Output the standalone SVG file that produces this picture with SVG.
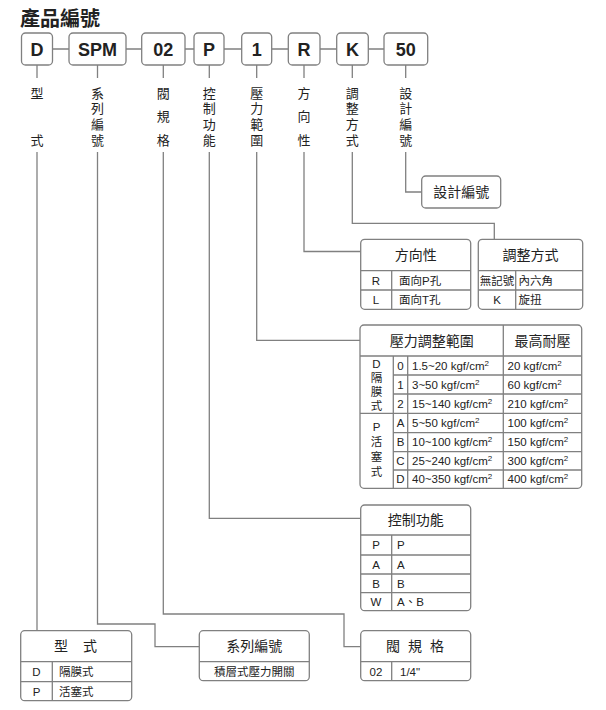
<svg xmlns="http://www.w3.org/2000/svg" width="606" height="710" viewBox="0 0 606 710">
<style>
text{font-family:"Liberation Sans","Noto Sans CJK TC",sans-serif;fill:#222}
.code{font-size:18px;font-weight:bold;text-anchor:middle}
.box{fill:#fff;stroke:#808080;stroke-width:1.3}
.ln{fill:none;stroke:#808080;stroke-width:1.3}
.vl{font-size:13px;text-anchor:middle}
.hd{font-size:14px;text-anchor:middle}
.td{font-size:11.5px}
.tc{font-size:11.5px;text-anchor:middle}
.sup{font-size:8px}
</style>
<rect width="606" height="710" fill="#fff"/>
<text x="20" y="26" style="font-size:20px;font-weight:bold">產品編號</text>

<g id="connectors">
<path class="ln" d="M52.5 49H69M126 49H141.7M185 49H194M224 49H241.7M271.7 49H288.3M320 49H336.7M368.3 49H384"/>
<path class="ln" d="M37 65V78M97.5 65V78M163.3 65V78M209.3 65V78M256.7 65V78M304 65V78M352.3 65V78M405.7 65V78"/>
<path class="ln" d="M37 152V630.7"/>
<path class="ln" d="M97.5 152V624H155V646.7H199.3"/>
<path class="ln" d="M163.3 152V614H344V646.7H360.7"/>
<path class="ln" d="M209.3 152V518.3H360.7"/>
<path class="ln" d="M256.7 152V340.3H360"/>
<path class="ln" d="M304 152V251.5H360.7"/>
<path class="ln" d="M352.3 152V223.3H494.3V239.3"/>
<path class="ln" d="M405.7 152V192H421.7"/>
</g>

<g id="node-D">
<rect class="box" x="21.5" y="33" width="31" height="32" rx="4"/>
<text class="code" x="37" y="55.5">D</text>
<text class="vl" x="37" y="97.5">型</text>
<text class="vl" x="37" y="144.5">式</text>
</g>
<g id="node-SPM">
<rect class="box" x="69" y="33" width="57" height="32" rx="4"/>
<text class="code" x="97.5" y="55.5">SPM</text>
<text class="vl" x="97.5" y="97.5">系</text>
<text class="vl" x="97.5" y="113.2">列</text>
<text class="vl" x="97.5" y="128.8">編</text>
<text class="vl" x="97.5" y="144.5">號</text>
</g>
<g id="node-02">
<rect class="box" x="141.7" y="33" width="43.3" height="32" rx="4"/>
<text class="code" x="163.3" y="55.5">02</text>
<text class="vl" x="163.3" y="97.5">閥</text>
<text class="vl" x="163.3" y="121">規</text>
<text class="vl" x="163.3" y="144.5">格</text>
</g>
<g id="node-P">
<rect class="box" x="194" y="33" width="30" height="32" rx="4"/>
<text class="code" x="209" y="55.5">P</text>
<text class="vl" x="209.3" y="97.5">控</text>
<text class="vl" x="209.3" y="113.2">制</text>
<text class="vl" x="209.3" y="128.8">功</text>
<text class="vl" x="209.3" y="144.5">能</text>
</g>
<g id="node-1">
<rect class="box" x="241.7" y="33" width="30" height="32" rx="4"/>
<text class="code" x="256.7" y="55.5">1</text>
<text class="vl" x="256.7" y="97.5">壓</text>
<text class="vl" x="256.7" y="113.2">力</text>
<text class="vl" x="256.7" y="128.8">範</text>
<text class="vl" x="256.7" y="144.5">圍</text>
</g>
<g id="node-R">
<rect class="box" x="288.3" y="33" width="31.7" height="32" rx="4"/>
<text class="code" x="304" y="55.5">R</text>
<text class="vl" x="304" y="97.5">方</text>
<text class="vl" x="304" y="121">向</text>
<text class="vl" x="304" y="144.5">性</text>
</g>
<g id="node-K">
<rect class="box" x="336.7" y="33" width="31.6" height="32" rx="4"/>
<text class="code" x="352.5" y="55.5">K</text>
<text class="vl" x="352.3" y="97.5">調</text>
<text class="vl" x="352.3" y="113.2">整</text>
<text class="vl" x="352.3" y="128.8">方</text>
<text class="vl" x="352.3" y="144.5">式</text>
</g>
<g id="node-50">
<rect class="box" x="384" y="33" width="43.7" height="32" rx="4"/>
<text class="code" x="405.8" y="55.5">50</text>
<text class="vl" x="405.7" y="97.5">設</text>
<text class="vl" x="405.7" y="113.2">計</text>
<text class="vl" x="405.7" y="128.8">編</text>
<text class="vl" x="405.7" y="144.5">號</text>
</g>

<g id="table-design">
<rect class="box" x="421.7" y="176" width="79" height="32" rx="4"/>
<text class="hd" x="461.2" y="197">設計編號</text>
</g>

<g id="table-direction">
<rect class="box" x="360.7" y="239.3" width="110" height="70" rx="4"/>
<path class="ln" d="M360.7 270.7H470.7M360.7 290H470.7M391.7 270.7V309.3"/>
<text class="hd" x="415.7" y="260">方向性</text>
<text class="tc" x="376" y="284.5">R</text>
<text class="td" x="399" y="284.5">面向P孔</text>
<text class="tc" x="376" y="304">L</text>
<text class="td" x="399" y="304">面向T孔</text>
</g>

<g id="table-adjust">
<rect class="box" x="478.3" y="239.3" width="104.4" height="70" rx="4"/>
<path class="ln" d="M478.3 270.7H582.7M478.3 290H582.7M515.7 270.7V309.3"/>
<text class="hd" x="530.5" y="260">調整方式</text>
<text class="tc" x="497" y="284.5">無記號</text>
<text class="td" x="518.5" y="284.5">內六角</text>
<text class="tc" x="497" y="304">K</text>
<text class="td" x="518.5" y="304">旋扭</text>
</g>

<g id="table-pressure">
<rect class="box" x="360" y="325" width="221.7" height="163.3" rx="4"/>
<path class="ln" d="M360 356H581.7M393.3 375H581.7M393.3 394H581.7M360 413.3H581.7M393.3 432.7H581.7M393.3 451.7H581.7M393.3 470H581.7M393.3 356V488.3M407.7 356V488.3M503.3 325V488.3"/>
<text class="hd" x="431.7" y="345.5">壓力調整範圍</text>
<text class="hd" x="542.5" y="345.5">最高耐壓</text>
<text class="tc" x="376.5" y="367.5">D</text>
<text class="tc" x="376.5" y="382">隔</text>
<text class="tc" x="376.5" y="396">膜</text>
<text class="tc" x="376.5" y="410">式</text>
<text class="tc" x="376.5" y="431">P</text>
<text class="tc" x="376.5" y="446">活</text>
<text class="tc" x="376.5" y="461">塞</text>
<text class="tc" x="376.5" y="476">式</text>
<text class="tc" x="400.5" y="369.5">0</text>
<text class="tc" x="400.5" y="388.5">1</text>
<text class="tc" x="400.5" y="407.7">2</text>
<text class="tc" x="400.5" y="427">A</text>
<text class="tc" x="400.5" y="446.2">B</text>
<text class="tc" x="400.5" y="464.8">C</text>
<text class="tc" x="400.5" y="483.2">D</text>
<text class="td" x="412" y="369.5">1.5~20 kgf/cm<tspan class="sup" dy="-4">2</tspan></text>
<text class="td" x="412" y="388.5">3~50 kgf/cm<tspan class="sup" dy="-4">2</tspan></text>
<text class="td" x="412" y="407.7">15~140 kgf/cm<tspan class="sup" dy="-4">2</tspan></text>
<text class="td" x="412" y="427">5~50 kgf/cm<tspan class="sup" dy="-4">2</tspan></text>
<text class="td" x="412" y="446.2">10~100 kgf/cm<tspan class="sup" dy="-4">2</tspan></text>
<text class="td" x="412" y="464.8">25~240 kgf/cm<tspan class="sup" dy="-4">2</tspan></text>
<text class="td" x="412" y="483.2">40~350 kgf/cm<tspan class="sup" dy="-4">2</tspan></text>
<text class="td" x="507.5" y="369.5">20 kgf/cm<tspan class="sup" dy="-4">2</tspan></text>
<text class="td" x="507.5" y="388.5">60 kgf/cm<tspan class="sup" dy="-4">2</tspan></text>
<text class="td" x="507.5" y="407.7">210 kgf/cm<tspan class="sup" dy="-4">2</tspan></text>
<text class="td" x="507.5" y="427">100 kgf/cm<tspan class="sup" dy="-4">2</tspan></text>
<text class="td" x="507.5" y="446.2">150 kgf/cm<tspan class="sup" dy="-4">2</tspan></text>
<text class="td" x="507.5" y="464.8">300 kgf/cm<tspan class="sup" dy="-4">2</tspan></text>
<text class="td" x="507.5" y="483.2">400 kgf/cm<tspan class="sup" dy="-4">2</tspan></text>
</g>

<g id="table-control">
<rect class="box" x="360.7" y="505" width="110" height="105.7" rx="4"/>
<path class="ln" d="M360.7 535H470.7M360.7 555H470.7M360.7 574H470.7M360.7 592.7H470.7M391.7 535V610.7"/>
<text class="hd" x="415.7" y="525">控制功能</text>
<text class="tc" x="376" y="549">P</text>
<text class="td" x="397" y="549">P</text>
<text class="tc" x="376" y="568.5">A</text>
<text class="td" x="397" y="568.5">A</text>
<text class="tc" x="376" y="587.5">B</text>
<text class="td" x="397" y="587.5">B</text>
<text class="tc" x="376" y="606">W</text>
<text class="td" x="397" y="606">A、B</text>
</g>

<g id="table-type">
<rect class="box" x="20.7" y="630.7" width="111" height="70" rx="4"/>
<path class="ln" d="M20.7 661.7H131.7M20.7 681.7H131.7M52.3 661.7V700.7"/>
<text class="hd" x="61" y="651">型</text>
<text class="hd" x="90" y="651">式</text>
<text class="tc" x="36.5" y="676">D</text>
<text class="td" x="59" y="676">隔膜式</text>
<text class="tc" x="36.5" y="695.5">P</text>
<text class="td" x="59" y="695.5">活塞式</text>
</g>

<g id="table-series">
<rect class="box" x="199.3" y="630.7" width="110" height="50" rx="4"/>
<path class="ln" d="M199.3 661.7H309.3"/>
<text class="hd" x="254.3" y="651">系列編號</text>
<text class="tc" x="254.3" y="675.5">積層式壓力開關</text>
</g>

<g id="table-valve">
<rect class="box" x="360.7" y="630.7" width="110" height="50" rx="4"/>
<path class="ln" d="M360.7 661.7H470.7M391.7 661.7V680.7"/>
<text class="hd" x="393" y="651">閥</text>
<text class="hd" x="415" y="651">規</text>
<text class="hd" x="437" y="651">格</text>
<text class="tc" x="376" y="675.5">02</text>
<text class="td" x="400" y="675.5">1/4"</text>
</g>
</svg>
